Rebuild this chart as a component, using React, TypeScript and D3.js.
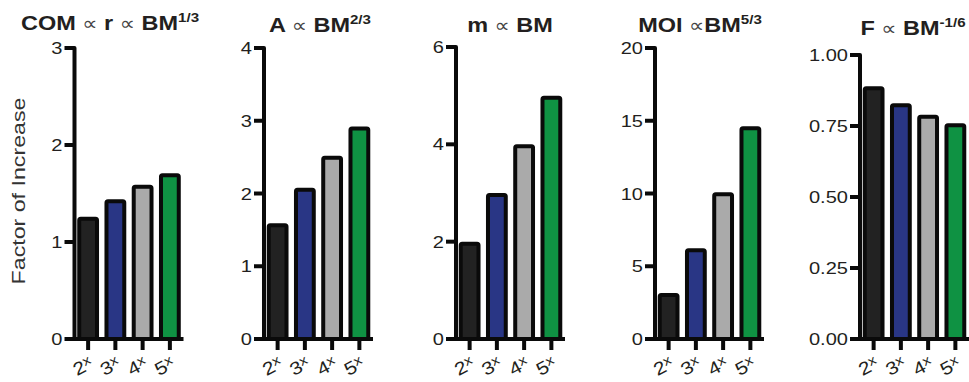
import * as d3 from "d3";

// categories (body-mass multiples)
const categories = ["2", "3", "4", "5"];

// values per panel
const comValues = [1.26, 1.44, 1.59, 1.71];
const areaValues = [1.59, 2.08, 2.52, 2.92];
const massValues = [2, 3, 4, 5];
const moiValues = [3.17, 6.24, 10.08, 14.62];
const forceValues = [0.89, 0.83, 0.79, 0.76];

// tick labels per panel
const comTicks = [0, 1, 2, 3];
const areaTicks = [0, 1, 2, 3, 4];
const massTicks = [0, 2, 4, 6];
const moiTicks = [0, 5, 10, 15, 20];
const forceTicks = [0, 0.25, 0.5, 0.75, 1];

// title pieces: b = bold, p = proportional sign, s = superscript
const comTitle = [["COM ", "b"], ["∝", "p"], [" r ", "b"], ["∝", "p"], [" BM", "b"], ["1/3", "s"]];
const areaTitle = [["A ", "b"], ["∝", "p"], [" BM", "b"], ["2/3", "s"]];
const massTitle = [["m ", "b"], ["∝", "p"], [" BM", "b"]];
const moiTitle = [["MOI ", "b"], ["∝", "p"], ["BM", "b"], ["5/3", "s"]];
const forceTitle = [["F ", "b"], ["∝", "p"], [" BM", "b"], ["-1/6", "s"]];

const yLabel = "Factor of Increase";

const colors = ["#222222", "#293685", "#aaaaaa", "#0f9243"];

const panels = [
  { values: comValues, ticks: comTicks, title: comTitle, fmt: d3.format("d") },
  { values: areaValues, ticks: areaTicks, title: areaTitle, fmt: d3.format("d") },
  { values: massValues, ticks: massTicks, title: massTitle, fmt: d3.format("d") },
  { values: moiValues, ticks: moiTicks, title: moiTitle, fmt: d3.format("d") },
  { values: forceValues, ticks: forceTicks, title: forceTitle, fmt: d3.format(".2f") },
];

// layout of each panel (axis x, axis top, title centre, title baseline)
const layout = [
  { ax: 74.5, top: 48, tx: 110, ty: 30 },
  { ax: 264, top: 48, tx: 320, ty: 32 },
  { ax: 456, top: 47, tx: 510, ty: 32 },
  { ax: 655, top: 48, tx: 700, ty: 32 },
  { ax: 860, top: 55, tx: 913, ty: 35 },
];

const W = 969;
const H = 382;
const y0 = 339;
const axisW = 109;
const font = "'Liberation Sans', Arial, sans-serif";
const sx = 1.18; // glyphs in the reference are a bit wide
const ink = "#0a0a0a";
const txt = "#231f20";
const lw = 4;

const Panel = ({ p, l }: any) => {
  const y = d3.scaleLinear().domain([0, d3.max(p.ticks) as number]).range([y0, l.top]);
  const x = d3.scaleBand().domain(categories).range([l.ax, l.ax + axisW]).paddingInner(0.2).paddingOuter(0.1);
  const bw = x.bandwidth();
  return (
    <g>
      <text transform={`translate(${l.tx},${l.ty}) scale(1.12,1)`} textAnchor="middle" fill={txt} fontFamily={font}>
        {p.title.map((t: string[], i: number) =>
          t[1] === "b" ? (
            <tspan key={i} fontWeight="bold" fontSize={21}>{t[0]}</tspan>
          ) : t[1] === "p" ? (
            <tspan key={i} fontSize={19} fill="#444" fontFamily="'DejaVu Sans', sans-serif">{t[0]}</tspan>
          ) : (
            <tspan key={i} fontWeight="bold" fontSize={13.5} dy={-8}>{t[0]}</tspan>
          )
        )}
      </text>
      {p.values.map((v: number, i: number) => (
        <rect
          key={i}
          x={(x(categories[i]) as number) + lw / 2}
          y={y(v) + lw / 2}
          width={bw - lw}
          height={y0 - y(v) - lw / 2}
          rx={1.5}
          fill={colors[i]}
          stroke={ink}
          strokeWidth={lw}
        />
      ))}
      {/* y axis with top tick */}
      <path
        d={`M${l.ax - 10},${l.top}H${l.ax}V${y0 + lw / 2}`}
        fill="none"
        stroke={ink}
        strokeWidth={lw}
        strokeLinejoin="round"
      />
      {p.ticks.slice(0, -1).map((t: number) => (
        <line key={t} x1={l.ax - 10} x2={l.ax} y1={y(t)} y2={y(t)} stroke={ink} strokeWidth={lw} />
      ))}
      {p.ticks.map((t: number) => (
        <text
          key={"l" + t}
          transform={`translate(${l.ax - 12},${y(t) + 6}) scale(${sx},1)`}
          textAnchor="end"
          fontSize={17}
          fontFamily={font}
          fill={txt}
        >
          {p.fmt(t)}
        </text>
      ))}
      {/* x axis */}
      <line x1={l.ax} x2={l.ax + axisW} y1={y0} y2={y0} stroke={ink} strokeWidth={lw} />
      {categories.map((c) => {
        const cx = (x(c) as number) + bw / 2;
        return (
          <g key={c}>
            <line x1={cx} x2={cx} y1={y0} y2={y0 + 11} stroke={ink} strokeWidth={lw} />
            <text
              transform={`translate(${cx + 6},${y0 + 28}) rotate(-28) scale(${sx},1)`}
              textAnchor="end"
              fontSize={18}
              fontFamily={font}
              fill={txt}
            >
              {c}
              <tspan fontSize={13} dy={-5}>x</tspan>
            </text>
          </g>
        );
      })}
    </g>
  );
};

export default function App() {
  return (
    <svg width={W} height={H} viewBox={`0 0 ${W} ${H}`} style={{ position: "absolute", left: 0, top: 0, background: "#fff" }}>
      <text
        transform={`translate(25,191) rotate(-90) scale(1.22,1)`}
        textAnchor="middle"
        fontSize={19}
        fontFamily={font}
        fill="#333"
      >
        {yLabel}
      </text>
      {panels.map((p, i) => (
        <Panel key={i} p={p} l={layout[i]} />
      ))}
    </svg>
  );
}
